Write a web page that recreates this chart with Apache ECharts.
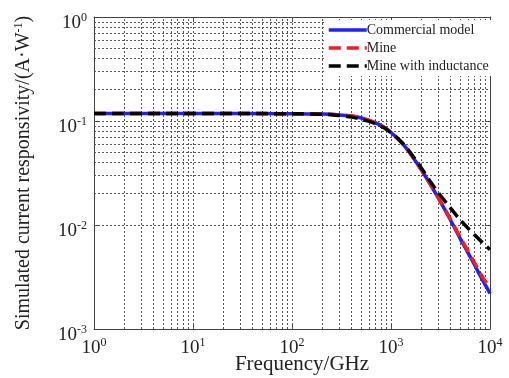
<!DOCTYPE html>
<html>
<head>
<meta charset="utf-8">
<script src="https://cdn.jsdelivr.net/npm/echarts@6/dist/echarts.min.js"></script>
<style>html,body{margin:0;padding:0;background:#fff}#c{width:509px;height:378px}</style>
</head>
<body>
<div id="c"></div>
<script>
// Frequency points (GHz)
const freq = [1, 10, 100, 200, 300, 400, 500, 600, 700, 850, 1000, 1250, 1500, 2000, 2500, 3000, 4000, 5000, 6000, 7000, 8500, 10000];
// Simulated current responsivity (A/W)
const commercial = [0.118, 0.118, 0.1175, 0.1165, 0.1145, 0.1115, 0.107, 0.1015, 0.096, 0.087, 0.0775, 0.0635, 0.0515, 0.0345, 0.0245, 0.0182, 0.0111, 0.0074, 0.0054, 0.0041, 0.0029, 0.0022];
const mine = [0.118, 0.118, 0.1175, 0.1165, 0.1145, 0.1115, 0.107, 0.1015, 0.096, 0.087, 0.0775, 0.0635, 0.0515, 0.0345, 0.0247, 0.0184, 0.0113, 0.0076, 0.0056, 0.0043, 0.0031, 0.0025];
const mineL = [0.118, 0.118, 0.1175, 0.116, 0.113, 0.109, 0.104, 0.099, 0.094, 0.086, 0.077, 0.064, 0.0525, 0.036, 0.026, 0.0205, 0.0145, 0.0112, 0.0093, 0.0080, 0.0067, 0.0058];
const seriesNames = ['Commercial model', 'Mine', 'Mine with inductance'];
const xDecades = [1, 10, 100, 1000, 10000];
const yDecades = [0.001, 0.01, 0.1, 1];

const FONT = '"Liberation Serif", "Times New Roman", serif';
const pairs = (ys) => freq.map((f, i) => [f, ys[i]]);

function gridValues(decades) {
  const v = [];
  for (let i = 0; i < decades.length - 1; i++) {
    for (let k = 1; k <= 9; k++) {
      if (i === 0 && k === 1) continue;
      v.push(decades[i] * k);
    }
  }
  return v;
}
const gx = gridValues(xDecades);
const gy = gridValues(yDecades);

const supLabel = (v) => '{b|10}{s|' + Math.round(Math.log10(v)) + '}';
const labelRich = {
  b: { fontSize: 19, fontFamily: FONT, color: '#222' },
  s: { fontSize: 12, fontFamily: FONT, color: '#222', padding: [0, 0, 10, 0] }
};
const gridStyle = { type: [2, 2], color: '#555', width: 1 };

const chart = echarts.init(document.getElementById('c'), null, { renderer: 'canvas' });
chart.setOption({
  animation: false,
  backgroundColor: '#fff',
  grid: { left: 94, right: 19, top: 17, bottom: 49, containLabel: false, outerBoundsMode: 'none' },
  legend: {
    data: seriesNames,
    orient: 'vertical',
    left: 324,
    top: 20,
    itemGap: 4,
    itemWidth: 38,
    itemHeight: 13,
    padding: [3, 4, 3, 3],
    backgroundColor: '#fff',
    z: 10,
    itemStyle: { opacity: 0 },
    lineStyle: { width: 3.5 },
    textStyle: { fontFamily: FONT, fontSize: 14, color: '#222', padding: [0, 0, 0, -5] }
  },
  xAxis: [{
    type: 'log', logBase: 10, min: 1, max: 10000,
    name: 'Frequency/GHz', nameLocation: 'middle', nameGap: 25, nameMoveOverlap: false,
    nameTextStyle: { fontFamily: FONT, fontSize: 21, color: '#222', padding: [0, 0, 0, 20] },
    axisLine: { lineStyle: { color: '#444', width: 1 } },
    axisTick: { inside: true, length: 5, lineStyle: { color: '#444' } },
    axisLabel: { formatter: supLabel, rich: labelRich, margin: 8 },
    splitLine: { show: false }
  }, {
    type: 'log', logBase: 10, min: 1, max: 10000, position: 'top',
    axisLine: { show: true, lineStyle: { color: '#444', width: 1 } },
    axisTick: { inside: true, length: 5, lineStyle: { color: '#444' } },
    axisLabel: { show: false }, splitLine: { show: false }
  }],
  yAxis: [{
    type: 'log', logBase: 10, min: 0.001, max: 1,
    name: '{a|Simulated current responsivity/(A·W}{s|-1}{a|)}',
    nameLocation: 'middle', nameGap: 59, nameRotate: 90, nameMoveOverlap: false,
    nameTextStyle: {
      rich: {
        a: { fontFamily: FONT, fontSize: 20, color: '#222' },
        s: { fontFamily: FONT, fontSize: 12, color: '#222', padding: [0, 0, 10, 0] }
      }
    },
    axisLine: { show: true, lineStyle: { color: '#444', width: 1 } },
    axisTick: { show: true, inside: true, length: 5, lineStyle: { color: '#444' } },
    axisLabel: { formatter: supLabel, rich: labelRich, margin: 7, padding: [12, 0, 0, 0] },
    splitLine: { show: false }
  }, {
    type: 'log', logBase: 10, min: 0.001, max: 1, position: 'right',
    axisLine: { show: true, lineStyle: { color: '#444', width: 1 } },
    axisTick: { show: true, inside: true, length: 5, lineStyle: { color: '#444' } },
    axisLabel: { show: false }, splitLine: { show: false }
  }],
  series: [
    {
      name: 'grid', type: 'line', data: [], silent: true, z: 1,
      markLine: {
        silent: true, z: 1, symbol: ['none', 'none'], label: { show: false },
        lineStyle: gridStyle, animation: false,
        data: gx.map(v => ({ xAxis: v })).concat(gy.map(v => ({ yAxis: v })))
      }
    },
    {
      name: seriesNames[0], type: 'line', data: pairs(commercial), smooth: 0.3,
      symbol: 'none', z: 3, color: '#1f1fff',
      lineStyle: { color: '#1f1fff', width: 3.5, type: 'solid' }
    },
    {
      name: seriesNames[1], type: 'line', data: pairs(mine), smooth: 0.3,
      symbol: 'none', z: 4, color: '#ff1a1a',
      lineStyle: { color: '#ff1a1a', width: 3.5, type: [12, 6] }
    },
    {
      name: seriesNames[2], type: 'line', data: pairs(mineL), smooth: 0.3,
      symbol: 'none', z: 5, color: '#000',
      lineStyle: { color: '#000', width: 3.5, type: [12, 6] }
    }
  ]
});
</script>
</body>
</html>
